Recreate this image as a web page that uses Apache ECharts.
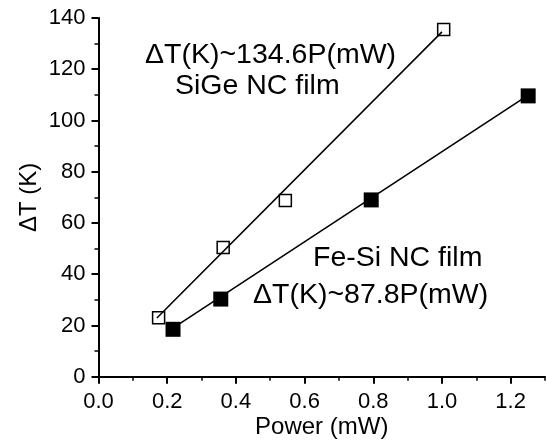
<!DOCTYPE html>
<html>
<head>
<meta charset="utf-8">
<script src="https://cdn.jsdelivr.net/npm/echarts@6/dist/echarts.min.js"></script>
<style>
  html, body { margin: 0; padding: 0; background: #fff; }
  #chart { width: 547px; height: 443px; }
</style>
</head>
<body>
<div id="chart"></div>
<script>
// Measured heating: temperature rise vs. applied power
const sigePoints = [[0.175, 23.0], [0.363, 50.4], [0.544, 68.8], [1.005, 135.5]];
const fesiPoints = [[0.217, 18.5], [0.356, 30.3], [0.794, 69.0], [1.251, 109.6]];

// Linear fits (end points of the drawn fit segments)
const sigeFit = [[0.17, 22.9], [1.0, 134.6]];
const fesiFit = [[0.21, 18.4], [1.25, 109.8]];

// Axis ticks
const xMajorTicks = [0, 0.2, 0.4, 0.6, 0.8, 1.0, 1.2];
const xMinorTicks = [0.1, 0.3, 0.5, 0.7, 0.9, 1.1, 1.3];

// Annotation texts
const sigeFitLabel = 'ΔT(K)~134.6P(mW)';
const sigeName = 'SiGe NC film';
const fesiName = 'Fe-Si NC film';
const fesiFitLabel = 'ΔT(K)~87.8P(mW)';

const FONT = '"Liberation Sans", Arial, Helvetica, sans-serif';
const chart = echarts.init(document.getElementById('chart'), null, { renderer: 'canvas' });

const axisLineStyle = { color: '#000', width: 2 };

chart.setOption({
  backgroundColor: '#fff',
  animation: false,
  grid: { left: 98.5, right: 2, top: 18, bottom: 66.3, containLabel: false, outerBoundsMode: 'none' },
  xAxis: [
    {
      type: 'value',
      position: 'bottom',
      min: 0, max: 1.3,
      name: 'Power (mW)',
      nameLocation: 'middle',
      nameGap: 39,
      nameMoveOverlap: false,
      nameTextStyle: { fontFamily: FONT, fontSize: 24, color: '#000' },
      axisLine: { show: true, lineStyle: axisLineStyle },
      axisTick: { show: true, inside: false, length: 7, customValues: xMajorTicks,
                  lineStyle: { color: '#000', width: 2 } },
      axisLabel: { show: true, margin: 14, customValues: xMajorTicks,
                   fontFamily: FONT, fontSize: 22, color: '#000',
                   formatter: v => v.toFixed(1) },
      splitLine: { show: false }
    },
    {
      type: 'value',
      position: 'bottom',
      min: 0, max: 1.3,
      axisLine: { show: false },
      axisTick: { show: true, inside: false, length: 4, customValues: xMinorTicks,
                  lineStyle: { color: '#000', width: 1.5 } },
      axisLabel: { show: false },
      splitLine: { show: false }
    }
  ],
  yAxis: {
    type: 'value',
    min: 0, max: 140, interval: 20,
    name: 'ΔT (K)',
    nameLocation: 'middle',
    nameGap: 57,
    nameMoveOverlap: false,
    nameTextStyle: { fontFamily: FONT, fontSize: 24, color: '#000' },
    axisLine: { show: true, lineStyle: axisLineStyle },
    axisTick: { show: true, inside: false, length: 7, lineStyle: { color: '#000', width: 2 } },
    minorTick: { show: true, splitNumber: 2, length: 4, lineStyle: { color: '#000', width: 1.5 } },
    axisLabel: { margin: 13, fontFamily: FONT, fontSize: 22, color: '#000' },
    splitLine: { show: false },
    minorSplitLine: { show: false }
  },
  series: [
    {
      name: 'SiGe',
      type: 'scatter',
      data: sigePoints,
      symbol: 'rect',
      symbolSize: 12,
      itemStyle: { color: '#fff', borderColor: '#000', borderWidth: 1.5, opacity: 1 },
      z: 2
    },
    {
      name: 'Fe-Si',
      type: 'scatter',
      data: fesiPoints,
      symbol: 'rect',
      symbolSize: 15,
      itemStyle: { color: '#000', borderColor: '#000', borderWidth: 0, opacity: 1 },
      z: 2
    },
    {
      name: 'SiGe fit',
      type: 'line',
      data: sigeFit,
      showSymbol: false,
      symbol: 'none',
      lineStyle: { color: '#000', width: 1.6 },
      z: 3
    },
    {
      name: 'Fe-Si fit',
      type: 'line',
      data: fesiFit,
      showSymbol: false,
      symbol: 'none',
      lineStyle: { color: '#000', width: 1.6 },
      z: 1
    }
  ],
  graphic: [
    { type: 'text', left: 145, top: 41, style: { text: sigeFitLabel, font: '28.5px ' + FONT, fill: '#000' } },
    { type: 'text', left: 175, top: 72, style: { text: sigeName, font: '28.5px ' + FONT, fill: '#000' } },
    { type: 'text', left: 313, top: 244, style: { text: fesiName, font: '28.5px ' + FONT, fill: '#000' } },
    { type: 'text', left: 253, top: 281, style: { text: fesiFitLabel, font: '28.5px ' + FONT, fill: '#000' } }
  ]
});
</script>
</body>
</html>
